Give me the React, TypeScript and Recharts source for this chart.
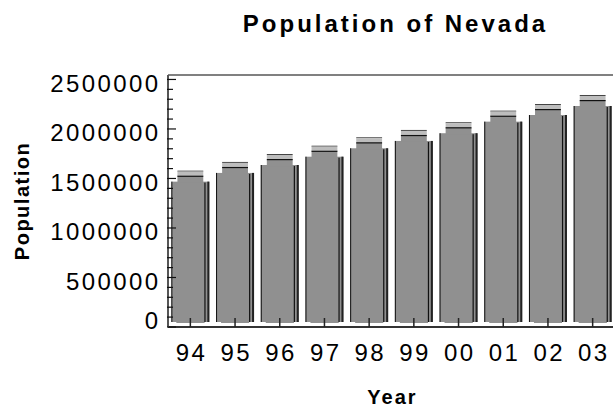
import { BarChart, Bar, XAxis, YAxis, ReferenceLine } from 'recharts';

const years = ['94', '95', '96', '97', '98', '99', '00', '01', '02', '03'];
const population = [1468000, 1556000, 1636000, 1720000, 1805000, 1879000, 1957000, 2074000, 2141000, 2232000];
const majorTicks = [0, 500000, 1000000, 1500000, 2000000, 2500000];
const yMax = 2545000;

const allTicks = Array.from({ length: 26 }, (_, i) => i * 100000);
const data = years.map((year, i) => ({ year, population: population[i] }));

const font = '"Liberation Sans", Arial, sans-serif';

const YTick = (props: any) => {
  const { x, y, payload } = props;
  const axisX = x + 10;
  const major = majorTicks.includes(payload.value);
  return (
    <g>
      <line x1={axisX - 1} x2={axisX + (major ? 8 : 5)} y1={y} y2={y} stroke="#111" strokeWidth={1.2} />
      {major && (
        <text
          x={x + 2.4}
          y={y + (payload.value === 0 ? 1.5 : 12.2)}
          textAnchor="end"
          fontFamily={font}
          fontSize={24}
          letterSpacing={2.4}
          fill="#000"
        >
          {payload.value}
        </text>
      )}
    </g>
  );
};

const XTick = (props: any) => {
  const { x, y, payload } = props;
  return (
    <g>
      <line x1={x} x2={x} y1={y} y2={y - 9} stroke="#222" strokeWidth={1.5} />
      <text x={x + 1.2} y={y + 33.5} textAnchor="middle" fontFamily={font} fontSize={24} letterSpacing={2.4} fill="#000">
        {payload.value}
      </text>
    </g>
  );
};

const BarShape = (props: any) => {
  const { x, y, width, height } = props;
  const bottom = y + height;
  const side = width * 0.16;
  const cx1 = x + side;
  const cx2 = x + width - side;
  return (
    <g>
      <rect x={x} y={y} width={width} height={height - 4} fill="#909090" />
      <rect x={cx1} y={y - 6} width={cx2 - cx1} height={7} fill="#909090" />
      <rect x={cx1} y={y - 11} width={cx2 - cx1} height={1} fill="#444" />
      <rect x={cx1} y={y - 10} width={cx2 - cx1} height={4} fill="#bdbdbd" />
      <rect x={cx1} y={y - 6} width={cx2 - cx1} height={1.2} fill="#111" />
      <rect x={x} y={y} width={1} height={height - 4} fill="#111" />
      <rect x={x + width - 5} y={y + 1} width={1.2} height={height - 5} fill="#111" />
      <rect x={x + width - 2} y={y} width={2} height={height - 4} fill="#222" />
      <rect x={x - 2} y={bottom - 5} width={7} height={4.5} fill="#fff" />
      <rect x={x + width - 5} y={bottom - 5} width={7} height={4.5} fill="#fff" />
    </g>
  );
};

const YLabel = (props: any) => {
  const { viewBox } = props;
  const cy = viewBox.y + viewBox.height / 2;
  return (
    <text
      x={22}
      y={cy}
      transform={`rotate(-90, 22, ${cy})`}
      textAnchor="middle"
      dominantBaseline="central"
      fontFamily={font}
      fontWeight="bold"
      fontSize={20}
      letterSpacing={1.5}
      fill="#000"
    >
      Population
    </text>
  );
};

const XLabel = (props: any) => {
  const { viewBox } = props;
  return (
    <text
      x={viewBox.x + viewBox.width / 2 + 1}
      y={viewBox.y + 77}
      textAnchor="middle"
      fontFamily={font}
      fontWeight="bold"
      fontSize={20}
      letterSpacing={2}
      fill="#000"
    >
      Year
    </text>
  );
};

export default function App() {
  return (
    <div style={{ position: 'absolute', left: 0, top: 0, width: 613, height: 407, overflow: 'hidden', background: '#fff' }}>
      <div
        style={{
          position: 'absolute',
          left: 172,
          top: 12,
          width: 447,
          textAlign: 'center',
          fontFamily: font,
          fontWeight: 'bold',
          fontSize: 24,
          lineHeight: 1,
          letterSpacing: 3,
        }}
      >
        Population of Nevada
      </div>
      <BarChart
        width={620}
        height={407}
        data={data}
        margin={{ top: 75, right: 5, bottom: 0, left: 0 }}
        barCategoryGap="7.5%"
      >
        <ReferenceLine y={yMax} stroke="#808080" strokeWidth={2} />
        <XAxis
          dataKey="year"
          height={80}
          tickSize={0}
          tickMargin={0}
          axisLine={{ stroke: '#333', strokeWidth: 2 }}
          tickLine={false}
          tick={<XTick />}
          interval={0}
          label={<XLabel />}
        />
        <YAxis
          width={168}
          domain={[0, yMax]}
          ticks={allTicks}
          interval={0}
          tickSize={0}
          tickMargin={10}
          tickLine={false}
          axisLine={{ stroke: '#555', strokeWidth: 2 }}
          tick={<YTick />}
          label={<YLabel />}
        />
        <Bar dataKey="population" shape={<BarShape />} isAnimationActive={false} />
      </BarChart>
    </div>
  );
}
